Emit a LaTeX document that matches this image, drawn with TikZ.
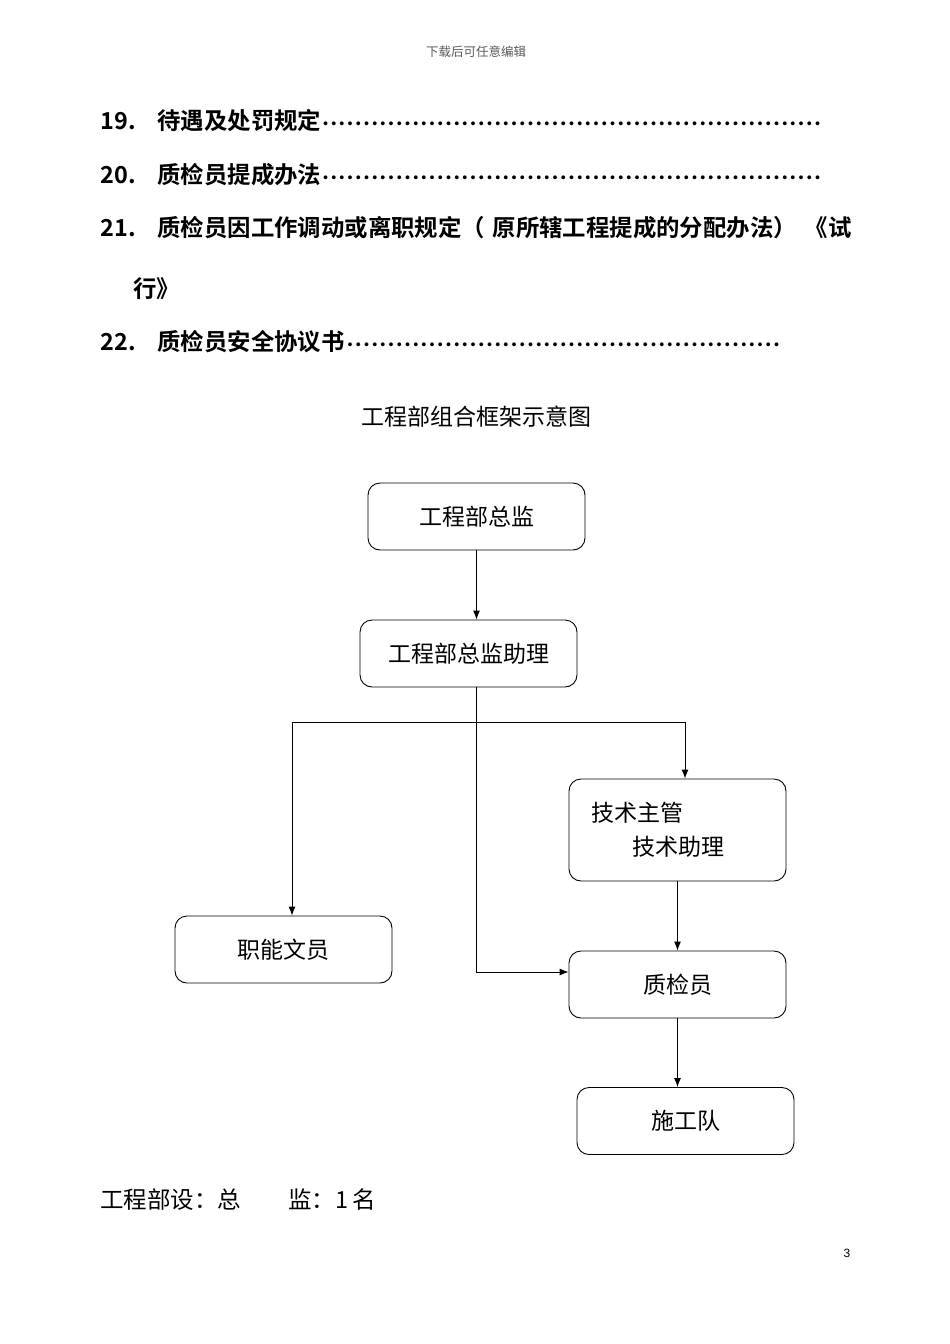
\documentclass[tikz,border=0pt]{standalone}
\usepackage{fontspec}
\setmainfont{Liberation Sans}
\newfontfamily\cjk[BoldFont={Noto Sans CJK SC Bold}]{Noto Sans CJK SC}
\usetikzlibrary{positioning,arrows.meta}
% dotted leader as in a table of contents
\newcommand\dotchar{{\fontsize{15}{15}\selectfont\raisebox{0.5pt}{•}}}
\newcommand\tocline[2]{\hbox to #2{#1\leaders\hbox to 8.2pt{\hss\dotchar\hss}\hfill}}
\begin{document}
\begin{tikzpicture}[> = {Latex[length=9pt,width=7pt]}, % arrow head style
	x=1pt,y=-1pt,line width=0.9pt,
	every node/.style={font=\cjk\fontsize{23}{34}\selectfont},
	entry/.style={anchor=west,inner xsep=0pt,font=\cjk\bfseries\fontsize{23.4}{26}\selectfont},
	box/.style={draw,rounded corners=12pt,minimum width=217pt,minimum height=67pt,inner sep=0pt}]
	\useasboundingbox (0,0) rectangle (950,1344);
	\node[text=black!65,font=\cjk\fontsize{12.5}{14}\selectfont] (hdr) at (476,52) {下载后可任意编辑};
	% list of contents
	\node[entry] (n19) at (100,121) {19.};
	\node[entry] (t19) at (157,121) {\tocline{待遇及处罚规定}{672pt}};
	\node[entry] (n20) at (100,175) {20.};
	\node[entry] (t20) at (157,175) {\tocline{质检员提成办法}{672pt}};
	\node[entry] (n21) at (100,228) {21.};
	\node[entry] (t21) at (157,228) {\hbox to 694pt{质检员因工作调动或离职规定（\hfil 原所辖工程提成的分配办法）\hfil 《试}};
	\node[entry] (t21b) at (133,289) {行》};
	\node[entry] (n22) at (100,342) {22.};
	\node[entry] (t22) at (157,342) {\tocline{质检员安全协议书}{624pt}};
	% chart
	\node (title) at (476,417) {工程部组合框架示意图};
	\node[box] (chief) at (476.5,516.5) {工程部总监};
	\node[box] (asst) at (468.5,653.5) {工程部总监助理};
	\node[box,minimum height=102pt,text width=173pt,inner xsep=22pt,align=left] (tech) at (677.5,830)
		{技术主管\\\hspace*{41pt}技术助理};
	\node[box] (clerk) at (283.5,949.5) {职能文员};
	\node[box] (qc) at (677.5,984.5) {质检员};
	\node[box] (crew) at (685.5,1121) {施工队};
	\coordinate (lft) at (292,722);
	\coordinate (rgt) at (685,722);
	\draw[->] (chief.south) -- (chief.south |- asst.north);
	\draw[->] (chief.south |- asst.south) |- ([yshift=12.5pt]qc.west);
	\draw (lft) -- (rgt);
	\draw[->] (lft) -- (lft |- clerk.north);
	\draw[->] (rgt) -- (rgt |- tech.north);
	\draw[->] (tech.south) -- (qc.north);
	\draw[->] (qc.south) -- (qc.south |- crew.north);
	\node[anchor=west,inner xsep=0pt,font=\cjk\fontsize{23.5}{26}\selectfont] (note) at (100,1200) {工程部设：总　　监：1\,名};
	\node[font=\fontsize{12}{14}\selectfont] (pg) at (847,1253) {3};
\end{tikzpicture}
\end{document}
